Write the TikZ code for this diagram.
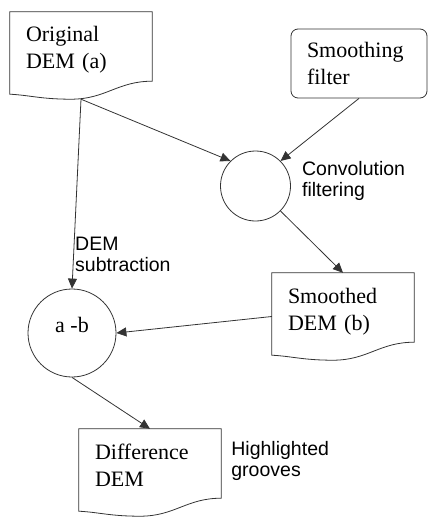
\documentclass[tikz,border=0pt]{standalone}
\usepackage{fontspec}
\setmainfont{Liberation Serif}
\setsansfont{Liberation Sans}
\usetikzlibrary{shapes,arrows.meta,positioning,calc}

% outline of a document box with a wavy bottom edge
\newcommand{\docshape}[1]{%
  \draw[docline] (#1.north west) -- (#1.north east) -- ([yshift=18pt]#1.south east)
    .. controls ([xshift=-35pt,yshift=18pt]#1.south east) and ([xshift=25pt]#1.south) .. ([xshift=-10pt]#1.south)
    .. controls ([xshift=-40pt]#1.south) and ([xshift=20pt,yshift=4pt]#1.south west) .. ([yshift=5pt]#1.south west) -- cycle;}

\begin{document}
\begin{tikzpicture}[x=1pt, y=-1pt,
    docline/.style={line width=0.8pt, draw=black!80},
    docbox/.style={rectangle, text width=110pt, inner xsep=16pt, inner ysep=12pt, text height=18pt, text depth=45pt, align=left, font=\fontsize{22}{27}\selectfont},
    filterbox/.style={rectangle, draw=black!80, line width=0.8pt, rounded corners=7pt, text width=104pt, inner xsep=16pt, inner ysep=12pt, text height=17pt, text depth=28pt, align=left, font=\fontsize{22}{27}\selectfont},
    op/.style={circle, draw=black!80, line width=0.8pt, inner sep=0pt, font=\fontsize{22}{27}\selectfont},
    note/.style={font=\sffamily\fontsize{19.5}{21}\selectfont, align=left, inner sep=2pt},
    flow/.style={-{Triangle[length=10pt,width=9pt]}, line width=0.8pt, draw=black!80}]

    \useasboundingbox (0,0) rectangle (428,519);

    % Inputs
    \node[docbox] (orig) at (81,55.5) {Original\\DEM (a)};
    \node[filterbox] (filter) at (359,63.5) {Smoothing\\filter};

    % Convolution
    \node[op, minimum size=70pt] (conv) at (255.5,186) {};
    \node[note, right=9pt of conv, yshift=5pt] (convlbl) {Convolution\\filtering};

    % Smoothed DEM
    \node[docbox] (smoothed) at (343,316.5) {Smoothed\\DEM (b)};

    % Subtraction
    \node[op, minimum size=88pt, text height=15pt, text depth=16pt] (sub) at (72,333) {a -b};
    \node[note, above right=15pt and 1pt of sub.north] (sublbl) {DEM\\subtraction};

    % Result
    \node[docbox] (diff) at (150,472.5) {Difference\\DEM};
    \node[note, below right=10pt and 8pt of diff.north east] (difflbl) {Highlighted\\grooves};

    % Document outlines
    \docshape{orig}
    \docshape{smoothed}
    \docshape{diff}

    % Arrows
    \draw[flow] (orig.south) -- (sub.north);
    \draw[flow] (orig.south) -- (conv.135);
    \draw[flow] (filter.south) -- (conv.45);
    \draw[flow] (conv.-45) -- (smoothed.north);
    \draw[flow] (smoothed.west) -- (sub.east);
    \draw[flow] (sub.south) -- (diff.north);

\end{tikzpicture}
\end{document}
